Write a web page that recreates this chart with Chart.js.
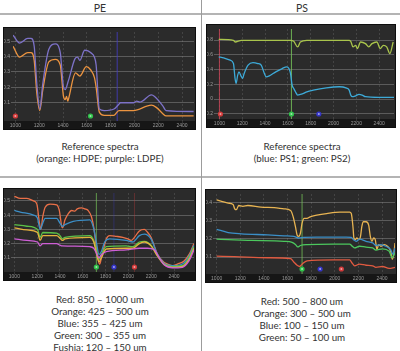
<!DOCTYPE html>
<html>
<head>
<meta charset="utf-8">
<script src="https://cdn.jsdelivr.net/npm/chart.js@4.4.1/dist/chart.umd.min.js"></script>
<style>
  html, body { margin: 0; padding: 0; background: #fff; }
  body { width: 400px; height: 351px; position: relative; overflow: hidden; font-family: Lato, "Open Sans", sans-serif; color: #333; }
  .rule-h { position: absolute; left: 0; width: 400px; height: 2px; background: #b4b4b4; }
  .rule-v { position: absolute; top: 0; left: 201px; width: 1px; height: 351px; background: #9c9c9c; }
  .head { position: absolute; top: 2px; width: 200px; text-align: center; font-size: 10.5px; line-height: 12px; }
  .plot { position: absolute; background: #2b2b2b; border: 1px solid #0e0e0e; box-sizing: border-box; }
  .plot canvas { display: block; }
  .cap { position: absolute; width: 200px; text-align: center; font-size: 9.8px; line-height: 12px; }
</style>
</head>
<body>
<div class="head" style="left:0">PE</div>
<div class="head" style="left:202px">PS</div>
<div class="rule-h" style="top:13px"></div>
<div class="rule-h" style="top:176px"></div>
<div class="rule-v"></div>

<div class="plot" style="left:3px; top:27px; width:193px; height:103px"><canvas id="peRef" width="191" height="101"></canvas></div>
<div class="plot" style="left:206px; top:24px; width:190px; height:104px"><canvas id="psRef" width="188" height="102"></canvas></div>
<div class="plot" style="left:3px; top:188px; width:193px; height:93px"><canvas id="peSize" width="191" height="91"></canvas></div>
<div class="plot" style="left:205px; top:189px; width:192px; height:94px"><canvas id="psSize" width="190" height="92"></canvas></div>

<div class="cap" style="left:0; top:140px">Reference spectra<br>(orange: HDPE; purple: LDPE)</div>
<div class="cap" style="left:202px; top:140px">Reference spectra<br>(blue: PS1; green: PS2)</div>
<div class="cap" style="left:0; top:293px">Red: 850 – 1000 um<br>Orange: 425 – 500 um<br>Blue: 355 – 425 um<br>Green: 300 – 355 um<br>Fushia: 120 – 150 um</div>
<div class="cap" style="left:202px; top:295px">Red: 500 – 800 um<br>Orange: 300 – 500 um<br>Blue: 100 – 150 um<br>Green: 50 – 100 um</div>

<script>
// wavelength ticks shared by all four panels
const wlTicks = [1000, 1200, 1400, 1600, 1800, 2000, 2200, 2400];

// PE reference spectra (top left)
const peRefYTicks = [0.1, 0.2, 0.3, 0.4, 0.5];
const ldpeWl = [981, 1036, 1104, 1131, 1158, 1180, 1205, 1230, 1281, 1336, 1377, 1404, 1418, 1445, 1500, 1522, 1541, 1582, 1610, 1631, 1664, 1678, 1705, 1746, 1828, 1869, 1882, 1992, 2019, 2046, 2142, 2169, 2238, 2265, 2497];
const ldpeAbs = [0.539, 0.488, 0.518, 0.518, 0.467, 0.222, 0.058, 0.222, 0.447, 0.482, 0.426, 0.201, 0.185, 0.242, 0.385, 0.396, 0.375, 0.441, 0.437, 0.426, 0.396, 0.345, 0.058, 0.048, 0.058, 0.089, 0.099, 0.099, 0.109, 0.103, 0.150, 0.140, 0.079, 0.048, 0.042];
const hdpeWl = [981, 1036, 1104, 1131, 1158, 1180, 1205, 1230, 1281, 1336, 1377, 1404, 1418, 1430, 1440, 1445, 1505, 1541, 1596, 1631, 1664, 1678, 1705, 1746, 1828, 1869, 1992, 2142, 2183, 2238, 2265, 2497];
const hdpeAbs = [0.467, 0.396, 0.426, 0.426, 0.375, 0.161, 0.048, 0.181, 0.365, 0.381, 0.345, 0.140, 0.120, 0.140, 0.109, 0.120, 0.293, 0.273, 0.334, 0.314, 0.263, 0.201, 0.038, 0.017, 0.017, 0.048, 0.048, 0.083, 0.069, 0.028, 0.013, 0.013];

// PS reference spectra (top right)
const psRefYTicks = [-0.2, 0, 0.2, 0.4, 0.6, 0.8];
const ps1Wl = [994, 1037, 1094, 1123, 1137, 1146, 1160, 1171, 1189, 1203, 1217, 1251, 1294, 1337, 1366, 1394, 1409, 1437, 1494, 1551, 1589, 1609, 1623, 1637, 1651, 1666, 1686, 1709, 1737, 1766, 1823, 1937, 2051, 2109, 2137, 2151, 2166, 2194, 2223, 2251, 2280, 2394, 2531];
const ps1Abs = [0.572, 0.558, 0.527, 0.482, 0.279, 0.212, 0.324, 0.369, 0.315, 0.279, 0.347, 0.459, 0.495, 0.482, 0.459, 0.347, 0.302, 0.315, 0.369, 0.414, 0.437, 0.414, 0.347, 0.189, 0.144, 0.099, 0.054, 0.063, 0.077, 0.099, 0.122, 0.153, 0.167, 0.153, 0.122, 0.054, 0.032, 0.045, 0.063, 0.054, 0.032, 0.023, 0.023];
const ps2Wl = [994, 1123, 1137, 1194, 1623, 1651, 1686, 1709, 1766, 2137, 2151, 2171, 2194, 2209, 2237, 2280, 2309, 2337, 2380, 2409, 2437, 2466, 2494, 2523];
const ps2Abs = [0.810, 0.797, 0.774, 0.797, 0.797, 0.783, 0.707, 0.774, 0.797, 0.797, 0.783, 0.707, 0.729, 0.684, 0.774, 0.752, 0.707, 0.752, 0.774, 0.684, 0.729, 0.707, 0.617, 0.774];

// PE size fractions (bottom left)
const peSizeYTicks = [0.1, 0.2, 0.3, 0.4, 0.5];
const peRedWl = [1000, 1052, 1110, 1168, 1197, 1220, 1232, 1249, 1270, 1313, 1371, 1394, 1415, 1423, 1444, 1473, 1502, 1531, 1551, 1589, 1618, 1647, 1676, 1699, 1719, 1734, 1748, 1763, 1777, 1806, 1835, 1893, 1951, 1995, 2024, 2053, 2096, 2140, 2169, 2198, 2256, 2314, 2343, 2386, 2430, 2488, 2531, 2575];
const peRedAbs = [0.533, 0.518, 0.518, 0.500, 0.478, 0.344, 0.300, 0.389, 0.456, 0.478, 0.473, 0.433, 0.322, 0.311, 0.367, 0.411, 0.433, 0.429, 0.444, 0.451, 0.444, 0.433, 0.389, 0.300, 0.167, 0.089, 0.056, 0.100, 0.144, 0.233, 0.256, 0.251, 0.244, 0.233, 0.222, 0.244, 0.289, 0.300, 0.278, 0.244, 0.122, 0.067, 0.056, 0.044, 0.056, 0.078, 0.122, 0.200];
const peBlueWl = [1000, 1052, 1168, 1203, 1226, 1249, 1270, 1371, 1400, 1421, 1444, 1516, 1661, 1690, 1719, 1742, 1763, 1792, 1835, 1980, 2038, 2096, 2140, 2198, 2256, 2314, 2386, 2473, 2531, 2575];
const peBlueAbs = [0.433, 0.422, 0.400, 0.378, 0.300, 0.344, 0.378, 0.378, 0.344, 0.322, 0.333, 0.356, 0.367, 0.322, 0.211, 0.122, 0.144, 0.211, 0.233, 0.222, 0.211, 0.256, 0.267, 0.233, 0.122, 0.060, 0.044, 0.056, 0.111, 0.189];
const peMidWl = [1000, 1110, 1203, 1226, 1249, 1371, 1400, 1421, 1444, 1661, 1696, 1719, 1742, 1763, 1806, 1980, 2038, 2096, 2140, 2198, 2256, 2314, 2386, 2473, 2531, 2575];
const peGreenAbs = [0.333, 0.322, 0.300, 0.244, 0.278, 0.273, 0.256, 0.233, 0.244, 0.256, 0.222, 0.156, 0.089, 0.122, 0.178, 0.184, 0.178, 0.211, 0.216, 0.189, 0.111, 0.056, 0.038, 0.044, 0.100, 0.178];
const peOrangeAbs = [0.311, 0.296, 0.278, 0.222, 0.256, 0.256, 0.238, 0.222, 0.233, 0.244, 0.211, 0.133, 0.073, 0.100, 0.162, 0.167, 0.167, 0.200, 0.211, 0.184, 0.111, 0.051, 0.033, 0.038, 0.089, 0.167];
const peFuchsiaWl = [1000, 1110, 1203, 1226, 1249, 1371, 1400, 1421, 1661, 1696, 1719, 1742, 1763, 1806, 1980, 2096, 2169, 2227, 2270, 2314, 2386, 2473, 2531, 2575];
const peFuchsiaAbs = [0.233, 0.222, 0.211, 0.184, 0.200, 0.200, 0.189, 0.184, 0.178, 0.167, 0.133, 0.100, 0.122, 0.144, 0.156, 0.167, 0.167, 0.156, 0.100, 0.051, 0.029, 0.033, 0.078, 0.156];

// PS size fractions (bottom right)
const psSizeYTicks = [0.1, 0.2, 0.3, 0.4];
const psOrangeWl = [1000, 1042, 1097, 1139, 1153, 1167, 1186, 1222, 1264, 1375, 1487, 1570, 1626, 1648, 1667, 1681, 1695, 1709, 1723, 1742, 1765, 1792, 1848, 1931, 2043, 2126, 2140, 2154, 2162, 2173, 2187, 2204, 2218, 2229, 2243, 2265, 2287, 2301, 2315, 2329, 2343, 2357, 2371, 2390, 2418, 2446, 2473, 2487, 2501, 2510];
const psOrangeAbs = [0.413, 0.405, 0.395, 0.388, 0.364, 0.359, 0.382, 0.377, 0.382, 0.373, 0.370, 0.364, 0.355, 0.320, 0.266, 0.221, 0.213, 0.230, 0.284, 0.311, 0.311, 0.320, 0.329, 0.338, 0.346, 0.346, 0.338, 0.266, 0.204, 0.195, 0.204, 0.195, 0.213, 0.266, 0.293, 0.293, 0.275, 0.213, 0.186, 0.204, 0.195, 0.141, 0.168, 0.159, 0.168, 0.159, 0.132, 0.088, 0.123, 0.177];
const psBlueWl = [1000, 1097, 1209, 1431, 1570, 1653, 1695, 1737, 1848, 1987, 2098, 2140, 2159, 2182, 2209, 2265, 2321, 2348, 2390, 2432, 2473, 2493, 2510];
const psBlueAbs = [0.252, 0.234, 0.227, 0.221, 0.216, 0.213, 0.204, 0.207, 0.209, 0.209, 0.209, 0.207, 0.195, 0.186, 0.198, 0.186, 0.177, 0.163, 0.168, 0.159, 0.141, 0.114, 0.150];
const psGreenWl = [1000, 1097, 1292, 1570, 1639, 1667, 1687, 1709, 1765, 1987, 2126, 2148, 2168, 2209, 2265, 2321, 2348, 2404, 2460, 2487, 2510];
const psGreenAbs = [0.198, 0.195, 0.191, 0.186, 0.180, 0.168, 0.155, 0.163, 0.168, 0.171, 0.171, 0.159, 0.150, 0.159, 0.154, 0.150, 0.138, 0.145, 0.132, 0.096, 0.123];
const psRedWl = [1000, 1153, 1431, 1626, 1653, 1681, 1703, 1723, 1765, 1987, 2126, 2148, 2168, 2209, 2265, 2321, 2348, 2404, 2460, 2510];
const psRedAbs = [0.105, 0.102, 0.096, 0.091, 0.073, 0.055, 0.048, 0.061, 0.079, 0.084, 0.084, 0.066, 0.052, 0.061, 0.055, 0.052, 0.043, 0.048, 0.038, 0.043];

// cursor lines and marker dots of the spectrometer software
const peRefCursor = 1855, peRefDots = [1000, 1631];
const psRefCursor = 1631, psRefStart = 1000, psRefDots = [1009, 1631, 1871];
const peSizeCursor = 1719, peSizeDots = [1719, 1873, 2053];
const psSizeCursor = 1723, psSizeDots = [1723, 1876, 2056];

const bandPlugin = {
    id: 'band',
    beforeDraw(chart) {
        const { ctx, chartArea: a, width, height } = chart;
        ctx.save();
        ctx.fillStyle = '#161616';
        ctx.fillRect(0, a.bottom, width, height - a.bottom);
        ctx.restore();
    }
};

const cursorPlugin = {
    id: 'cursors',
    beforeDatasetsDraw(chart, args, opts) {
        const { ctx, chartArea: a, scales: { x } } = chart;
        ctx.save();
        (opts.lines || []).forEach(l => {
            const px = x.getPixelForValue(l.x);
            ctx.strokeStyle = l.color;
            ctx.lineWidth = 1;
            ctx.beginPath();
            ctx.moveTo(px, a.top);
            ctx.lineTo(px, a.bottom);
            ctx.stroke();
        });
        ctx.restore();
    },
    afterDatasetsDraw(chart, args, opts) {
        const { ctx, chartArea: a, scales: { x } } = chart;
        ctx.save();
        (opts.dots || []).forEach(d => {
            const px = x.getPixelForValue(d.x);
            ctx.fillStyle = d.color;
            ctx.beginPath();
            ctx.arc(px, a.bottom - 5, 2.6, 0, Math.PI * 2);
            ctx.fill();
            ctx.fillStyle = 'rgba(255,255,255,0.55)';
            ctx.beginPath();
            ctx.arc(px, a.bottom - 5, 1, 0, Math.PI * 2);
            ctx.fill();
        });
        ctx.restore();
    }
};

function series(wl, vals, color) {
    return {
        data: wl.map((w, i) => ({ x: w, y: vals[i] })),
        borderColor: color,
        borderWidth: 1.3,
        pointRadius: 0,
        cubicInterpolationMode: 'monotone',
        fill: false
    };
}

function buildChart(id, datasets, xMin, xMax, yMin, yMax, yTicks, cursors) {
    return new Chart(document.getElementById(id), {
        type: 'line',
        data: { datasets },
        options: {
            animation: false,
            responsive: false,
            maintainAspectRatio: false,
            layout: { padding: { top: 3, right: 1 } },
            plugins: {
                legend: { display: false },
                tooltip: { enabled: false },
                cursors
            },
            scales: {
                x: {
                    type: 'linear',
                    min: xMin,
                    max: xMax,
                    afterBuildTicks: s => { s.ticks = wlTicks.map(v => ({ value: v })); },
                    afterFit: s => { s.height = 8; },
                    grid: { color: 'rgba(160,160,160,0.22)', tickLength: 2 },
                    border: { display: false, dash: [2, 2] },
                    ticks: { color: '#9a9a9a', font: { size: 5, family: 'Arial' }, padding: 0, maxRotation: 0, autoSkip: false, callback: v => String(v) }
                },
                y: {
                    min: yMin,
                    max: yMax,
                    afterBuildTicks: s => { s.ticks = yTicks.map(v => ({ value: v })); },
                    afterFit: s => { s.width = 9; },
                    grid: { color: 'rgba(150,150,150,0.45)', tickLength: 2 },
                    border: { display: false },
                    ticks: { color: '#9a9a9a', font: { size: 5, family: 'Arial' }, padding: 1, callback: v => String(Math.round(v * 10) / 10) }
                }
            }
        },
        plugins: [bandPlugin, cursorPlugin]
    });
}

buildChart('peRef', [
    series(ldpeWl, ldpeAbs, '#7d72c8'),
    series(hdpeWl, hdpeAbs, '#ec9440')
], 980, 2500, -0.02, 0.56, peRefYTicks, {
    lines: [{ x: peRefCursor, color: 'rgba(70,60,200,0.8)' }],
    dots: [{ x: peRefDots[0], color: '#d23a3a' }, { x: peRefDots[1], color: '#2fc24a' }]
});

buildChart('psRef', [
    series(ps2Wl, ps2Abs, '#a9c44c'),
    series(ps1Wl, ps1Abs, '#3daad8')
], 970, 2530, -0.27, 0.95, psRefYTicks, {
    lines: [{ x: psRefStart, color: 'rgba(210,70,90,0.8)' }, { x: psRefCursor, color: 'rgba(120,200,90,0.85)' }],
    dots: [{ x: psRefDots[0], color: '#d23a3a' }, { x: psRefDots[1], color: '#2fc24a' }, { x: psRefDots[2], color: '#3535c8' }]
});

buildChart('peSize', [
    series(peFuchsiaWl, peFuchsiaAbs, '#cf5fd6'),
    series(peMidWl, peOrangeAbs, '#e6b23e'),
    series(peMidWl, peGreenAbs, '#5cc248'),
    series(peBlueWl, peBlueAbs, '#3c8ec6'),
    series(peRedWl, peRedAbs, '#ea7048')
], 988, 2575, 0, 0.556, peSizeYTicks, {
    lines: [
        { x: peSizeCursor, color: 'rgba(120,200,90,0.7)' },
        { x: peSizeDots[1], color: 'rgba(60,60,200,0.35)' },
        { x: peSizeDots[2], color: 'rgba(200,60,60,0.35)' }
    ],
    dots: [{ x: peSizeDots[0], color: '#2fc24a' }, { x: peSizeDots[1], color: '#3535c8' }, { x: peSizeDots[2], color: '#d23a3a' }]
});

buildChart('psSize', [
    series(psRedWl, psRedAbs, '#e05a40'),
    series(psGreenWl, psGreenAbs, '#4cc85e'),
    series(psBlueWl, psBlueAbs, '#3b8fc8'),
    series(psOrangeWl, psOrangeAbs, '#e8b452')
], 986, 2510, 0.007, 0.445, psSizeYTicks, {
    lines: [{ x: psSizeCursor, color: 'rgba(120,200,90,0.75)' }],
    dots: [{ x: psSizeDots[0], color: '#2fc24a' }, { x: psSizeDots[1], color: '#3535c8' }, { x: psSizeDots[2], color: '#d23a3a' }]
});
</script>
</body>
</html>
